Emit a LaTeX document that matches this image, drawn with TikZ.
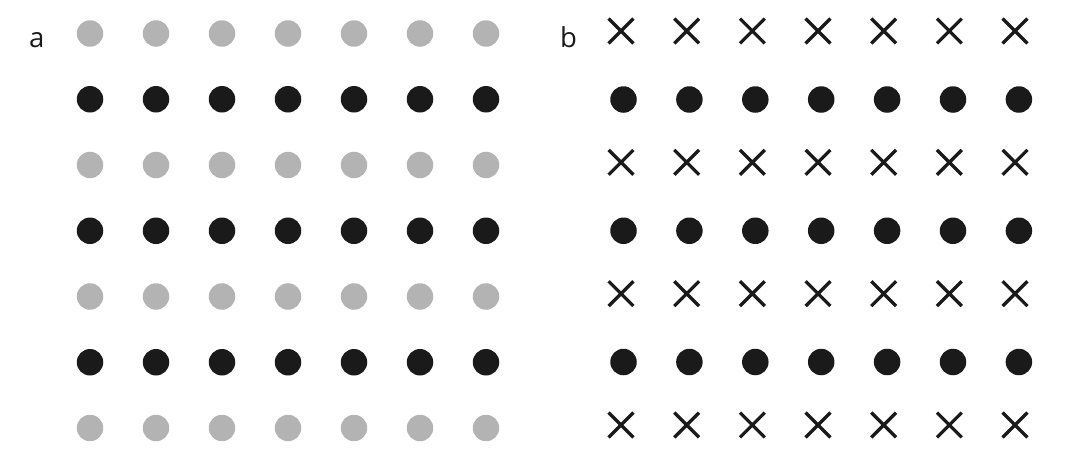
\documentclass[tikz,border=0pt]{standalone}
\usepackage{fontspec}
\setmainfont{Open Sans}
\usetikzlibrary{shapes.misc}
\definecolor{dotgray}{HTML}{B3B3B3}
\definecolor{dotblack}{HTML}{1A1A1A}
\tikzset{
  x=1pt, y=-1pt,
  graydot/.style={circle, fill=dotgray, inner sep=0pt, minimum size=26.5pt},
  blackdot/.style={circle, fill=dotblack, inner sep=0pt, minimum size=26.5pt},
  xmark/.style={cross out, draw=dotblack, line width=3.3pt, inner sep=0pt, minimum size=21.5pt},
  panellabel/.style={anchor=base west, inner sep=0pt, font=\fontsize{27.5}{30}\selectfont, text=dotblack}
}
\begin{document}
\begin{tikzpicture}
\useasboundingbox (0,0) rectangle (1070,458);
\node[panellabel] (la) at (29,47.3) {a};
\node[panellabel] (lb) at (560,47.6) {b};
% panel a
\foreach \r in {0,...,6}{
  \foreach \c in {0,...,6}{
    \pgfmathtruncatemacro{\odd}{mod(\r,2)}
    \ifnum\odd=0
      \node[graydot] (a-\r-\c) at (90+66*\c, 33.5+65.75*\r) {};
    \else
      \node[blackdot] (a-\r-\c) at (90+66*\c, 33.5+65.75*\r) {};
    \fi
  }
}
% panel b
\foreach \r in {0,...,3}{
  \foreach \c in {0,...,6}{
    \node[xmark] (bx-\r-\c) at (621+65.67*\c, 31+131.33*\r) {};
  }
}
\foreach \r in {0,...,2}{
  \foreach \c in {0,...,6}{
    \node[blackdot] (bd-\r-\c) at (623.5+65.9*\c, 99.5+131.25*\r) {};
  }
}
\end{tikzpicture}
\end{document}
